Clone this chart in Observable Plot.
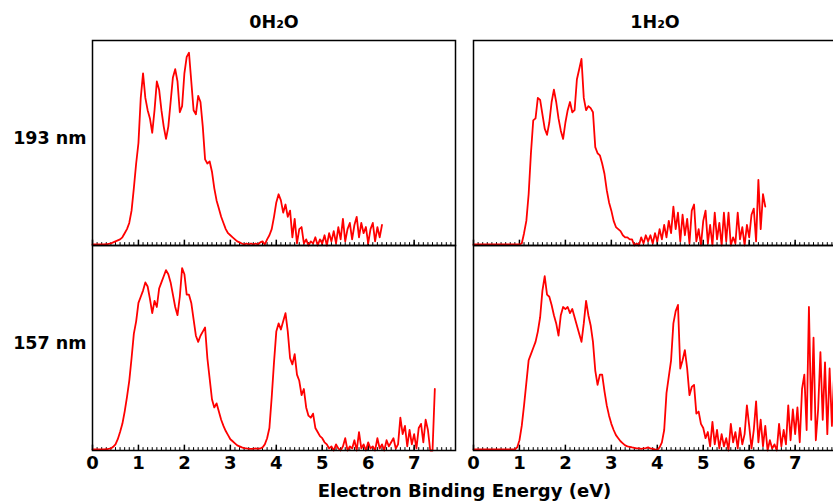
<!DOCTYPE html>
<html>
<head>
<meta charset="utf-8">
<script src="https://cdn.jsdelivr.net/npm/d3@7"></script>
<script src="https://cdn.jsdelivr.net/npm/@observablehq/plot@0.6"></script>
<style>
  html, body { margin: 0; padding: 0; background: #fff; overflow: hidden; width: 833px; height: 501px; }
  #chart svg { max-width: none !important; }
</style>
</head>
<body>
<div id="chart"></div>
<script>
// Energy grid step (eV) for all spectra; each array starts at 0 eV
const energyStep = 0.05;
const clusters = ["0H₂O", "1H₂O"];
const wavelengths = ["193 nm", "157 nm"];
const majorTicks = [0, 1, 2, 3, 4, 5, 6, 7];
const minorTicks = d3.range(0, 79).map(i => i / 10);

// 193 nm, 0 H2O (relative intensity, % of panel height)
const int193_0 = [0.5,0.5,0.5,0.5,0.5,0.5,0.6,0.8,1,1.5,
  2,2.5,3,4,6,8,11,17,28,40,
  50,72,84,72,66,62,55,66,80,76,
  66,58,52,58,70,82,86,80,65,68,
  84,92,94,80,66,64,73,70,58,42,
  40,41,36,28,22,18,14,11,8,6,
  5,4,3,2,1.5,1,0.5,1,0.5,1,
  0.5,1,0.5,1.5,2,0.5,3,5,8,14,
  21,25,22,16,20,14,17,4,13,1,
  8,9,1,3,0,2,1,4,0,3,
  1,5,0,6,2,7,1,9,3,13,
  2,8,11,3,10,14,4,11,6,9,
  1,8,11,2,9,4,10];

// 193 nm, 1 H2O
const int193_1 = [0.5,0.5,0.5,0.5,0.5,0.5,0.5,0.5,0.5,0.5,
  0.5,0.5,0.5,0.5,0.5,0.5,0.5,0.5,0.5,0.5,
  0.5,1,6,12,25,45,61,62,72,71,
  64,57,54,60,70,76,70,62,56,52,
  60,66,70,65,66,81,86,91,72,66,
  68,67,65,48,45,44,40,35,27,21,
  17,12,9,8,7,5,4,4,3,3,
  0,1,0,4,1,5,2,5,1,6,
  2,8,3,10,4,12,6,19,8,16,
  2,15,5,13,1,17,20,2,8,0,
  12,17,1,10,0,16,3,11,0,16,
  2,16,0,4,1,16,3,9,0,10,
  4,15,18,2,32,8,25,19];

// 157 nm, 0 H2O
const int157_0 = [0.5,0.5,0.5,0.5,0.5,0.5,0.6,0.8,1,1.8,
  3,5.5,9,13,19,26,34,45,57,63,
  72,75,78,82,80,74,67,73,70,79,
  82,85,88,86,82,76,70,66,75,89,
  86,76,76,72,64,56,53,56,58,60,
  45,35,25,21,23,19,15,12,9.5,7.5,
  5.5,4.5,3.5,2.5,2,1.5,1.2,1,0.8,0.8,
  0.8,1,0.8,1,1.5,3,6,11,26,43,
  58,62,59,63,67,58,45,42,47,37,
  34,27,30,21,17,16,18,11,9,7,
  6,4,3,1,2,0,3,1,0,2,
  6,0,2,1,5,0,9,1,3,0,
  4,1,2,0,6,1,3,0,5,2,
  4,6,1,3,16,8,12,2,10,3,
  8,1,11,13,4,15,10,0,0,30];

// 157 nm, 1 H2O
const int157_1 = [0.5,0.5,0.5,0.5,0.5,0.5,0.5,0.5,0.5,0.5,
  0.5,0.5,0.5,0.5,0.5,0.5,0.5,0.5,0.5,1.5,
  5,12,22,33,44,47,50,53,58,65,
  78,85,76,75,71,66,62,56,66,70,
  69,70,67,69,65,61,57,53,62,73,
  66,61,53,39,32,37,37,29,22,17,
  13,10,7.5,6,4.5,3.5,2.5,2,1.8,1.5,
  1.3,1,1,0.8,1,1.2,1.5,1,0.8,0.5,
  0.3,1.5,4,10,28,36,44,62,68,71,
  40,44,49,40,27,31,32,18,19,13,
  11,6,9,2,14,3,10,1,8,2,
  6,0,13,4,9,1,11,3,8,22,
  12,1,10,24,4,15,2,12,0,5,
  1,3,0,13,2,10,3,22,5,20,
  8,21,4,30,37,10,70,15,55,5,
  20,48,15,43,8,40,12,38];

const panels = [
  {cluster: clusters[0], wl: wavelengths[0], values: int193_0},
  {cluster: clusters[1], wl: wavelengths[0], values: int193_1},
  {cluster: clusters[0], wl: wavelengths[1], values: int157_0},
  {cluster: clusters[1], wl: wavelengths[1], values: int157_1}
];
const data = panels.flatMap(p => p.values.map((v, i) => ({
  energy: i * energyStep, intensity: v, cluster: p.cluster, wl: p.wl
})));

const chart = Plot.plot({
  width: 837,
  height: 501,
  marginLeft: 91,
  marginRight: 0,
  marginTop: 39,
  marginBottom: 51,
  style: "max-width:none; font-family:'DejaVu Sans'; font-weight:bold; font-size:18px; background:#fff; color:#000;",
  x: {domain: [0, 7.9]},
  y: {domain: [0, 100], axis: null},
  fx: {domain: clusters, paddingInner: 0.0471, paddingOuter: 0},
  fy: {domain: wavelengths, padding: 0},
  facet: {data, x: "cluster", y: "wl"},
  marks: [
    Plot.axisX({ticks: majorTicks, tickSize: 0, tickPadding: 6, tickFormat: d => String(d),
      label: null, fontSize: 18, fontWeight: "bold"}),
    Plot.axisX({ticks: [], tickSize: 0, label: "Electron Binding Energy (eV)", labelAnchor: "center",
      labelOffset: 46, labelArrow: "none", fontSize: 18, fontWeight: "bold", dx: 5}),
    Plot.axisFx({anchor: "top", tickSize: 0, tickPadding: 13, label: null, fontSize: 17.5, fontWeight: "bold"}),
    Plot.axisFy({anchor: "left", tickSize: 0, tickPadding: 6, dy: -5, label: null, fontSize: 17.5, fontWeight: "bold"}),
    Plot.ruleX(minorTicks, {x: d => d, y1: 0, y2: 1.4, stroke: "#000", strokeWidth: 1}),
    Plot.ruleX(majorTicks, {x: d => d, y1: 0, y2: 2.6, stroke: "#000", strokeWidth: 1.5}),
    Plot.line(data, {x: "energy", y: "intensity", stroke: "#ff0000", strokeWidth: 1.8}),
    Plot.frame({stroke: "#000", strokeWidth: 1.5})
  ]
});
document.getElementById("chart").appendChild(chart);
</script>
</body>
</html>
